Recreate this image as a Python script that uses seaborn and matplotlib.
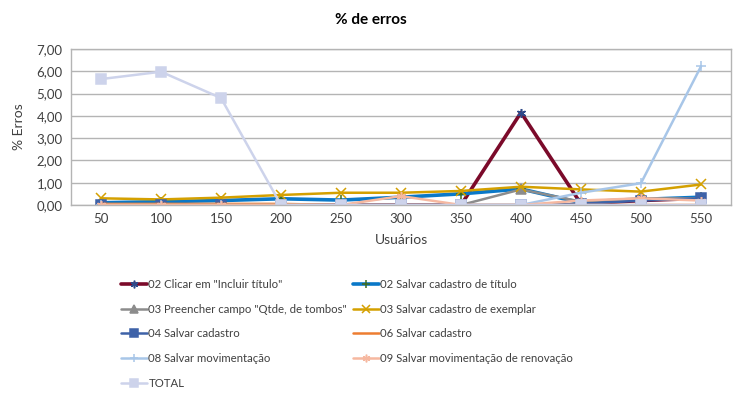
import numpy as np
import pandas as pd
import matplotlib
matplotlib.use("Agg")
import matplotlib.pyplot as plt
from matplotlib.ticker import FuncFormatter
import seaborn as sns

usuarios = ["50", "100", "150", "200", "250", "300", "350", "400", "450", "500", "550"]

clicar_incluir = [0, 0, 0, 0, 0, 0, 0, 4.15, 0.05, 0.2, 0.3]
salvar_titulo = [0.1, 0.15, 0.2, 0.28, 0.22, 0.35, 0.5, 0.72, 0.1, 0.25, 0.35]
preencher_qtde = [0, 0, 0, 0, 0, 0, 0, 0.7, 0.15, 0.3, 0.3]
salvar_exemplar = [0.3, 0.25, 0.33, 0.45, 0.55, 0.55, 0.63, 0.82, 0.7, 0.6, 0.92]
salvar_cadastro_04 = [0, 0, 0, 0, 0, 0, 0, 0, 0.05, 0.2, 0.3]
salvar_cadastro_06 = [0.05, 0.05, 0.05, 0.05, 0, 0, 0, 0, 0, 0, 0]
salvar_mov = [0, 0, 0, 0, 0, 0, 0, 0, 0.55, 0.98, 6.22]
salvar_renov = [0, 0, 0, 0, 0, 0.4, 0, 0, 0.2, 0.3, 0.2]
total = [5.65, 5.98, 4.8, 0, 0, 0, 0, 0, 0, 0, 0]

# name, values, line colour, marker, marker colour, linewidth
series = [
    ('02 Clicar em "Incluir título"', clicar_incluir, "#7B0A2A", (6, 2, 0), "#2F4A8A", 2.6),
    ("02 Salvar cadastro de título", salvar_titulo, "#0A78C8", "+", "#3F6B1F", 2.6),
    ('03 Preencher campo "Qtde, de tombos"', preencher_qtde, "#8C8C8C", "^", "#8C8C8C", 1.8),
    ("03 Salvar cadastro de exemplar", salvar_exemplar, "#D4A000", "x", "#D4A000", 1.8),
    ("04 Salvar cadastro", salvar_cadastro_04, "#3E62A8", "s", "#3E62A8", 1.8),
    ("06 Salvar cadastro", salvar_cadastro_06, "#ED7D31", None, "#ED7D31", 1.8),
    ("08 Salvar movimentação", salvar_mov, "#A8C6E8", "+", "#A8C6E8", 1.8),
    ("09 Salvar movimentação de renovação", salvar_renov, "#F6B8A0", (6, 2, 0), "#F6B8A0", 1.8),
    ("TOTAL", total, "#CDD3EB", "s", "#CDD3EB", 1.8),
]

sns.set_style("white")
plt.rcParams["font.family"] = ["Lato", "DejaVu Sans"]

fig = plt.figure(figsize=(7.42, 3.96), dpi=100)
ax = fig.add_axes([71 / 742, 1 - 205 / 396, 660 / 742, 156 / 396])

x = np.arange(len(usuarios))
handles = []
for name, vals, col, mk, mcol, lw in series:
    df = pd.DataFrame({"x": x, "y": vals})
    sns.lineplot(data=df, x="x", y="y", ax=ax, color=col, linewidth=lw,
                 marker=mk, markersize=6.5, markeredgecolor=mcol,
                 markerfacecolor=mcol, markeredgewidth=1.1, label=name, legend=False)
    handles.append(ax.lines[-1])

ax.set_xlim(-0.5, len(usuarios) - 0.5)
ax.set_ylim(0, 7)
ax.set_xticks(x)
ax.set_xticklabels(usuarios)
ax.set_yticks(np.arange(0, 8, 1))
ax.yaxis.set_major_formatter(FuncFormatter(lambda v, p: f"{v:.2f}".replace(".", ",")))
ax.tick_params(length=0, labelsize=9.5, colors="#404040", pad=6)
ax.grid(axis="y", color="#B4B4B4", linewidth=1)
ax.set_axisbelow(True)
for s in ax.spines.values():
    s.set_color("#B4B4B4")
    s.set_linewidth(1)
ax.set_xlabel("Usuários", fontsize=10, color="#404040", labelpad=6)
ax.set_ylabel("% Erros", fontsize=10, color="#404040", labelpad=8)
fig.text(0.5, 1 - 20 / 396, "% de erros", ha="center", va="center",
         fontsize=11, fontweight="bold", color="#000000")

leg_kw = dict(loc="upper left", frameon=False, fontsize=8.2, handlelength=2.3,
              handletextpad=0.1, labelspacing=1.2, labelcolor="#404040",
              borderpad=0, borderaxespad=0, markerscale=0.85)
left = [0, 2, 4, 6, 8]
right = [1, 3, 5, 7]
leg1 = fig.legend([handles[i] for i in left], [series[i][0] for i in left],
                  bbox_to_anchor=(121 / 742, 1 - 279 / 396), **leg_kw)
leg2 = fig.legend([handles[i] for i in right], [series[i][0] for i in right],
                  bbox_to_anchor=(353 / 742, 1 - 279 / 396), **leg_kw)

fig.savefig("out.png", dpi=100)
